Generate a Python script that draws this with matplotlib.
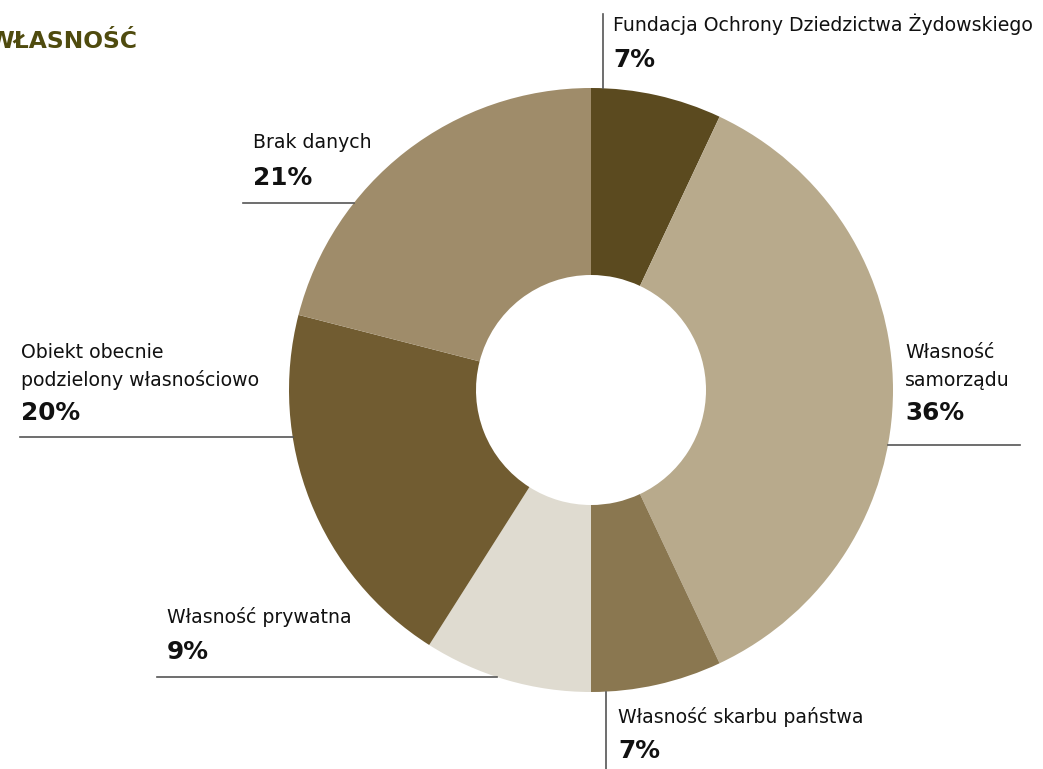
import numpy as np
import matplotlib.pyplot as plt

# data
labels = ["Fundacja Ochrony Dziedzictwa Żydowskiego", "Własność\nsamorządu",
          "Własność skarbu państwa", "Własność prywatna",
          "Obiekt obecnie\npodzielony własnościowo", "Brak danych"]
shares = [7, 36, 7, 9, 20, 21]
colors = ["#5b4a1f", "#b8aa8c", "#8a7750", "#dfdbd0", "#715c31", "#9f8c6a"]
title = "WŁASNOŚĆ"

W, H = 1043, 769
plt.rcParams['font.family'] = ['DejaVu Sans']

fig = plt.figure(figsize=(W/100, H/100), dpi=100)
ax = fig.add_axes([0, 0, 1, 1])

def py(y): return H - y   # pixel row -> data y

cx, cy, R, r_in = 591, py(390), 302, 115
ax.pie(shares, colors=colors, startangle=90, counterclock=False, center=(cx, cy),
       radius=R, wedgeprops=dict(width=R - r_in, linewidth=0), frame=True)
ax.set_xlim(0, W); ax.set_ylim(0, H)
ax.set_aspect("equal"); ax.axis("off")

# title runs off the left edge, as in the original layout
ax.text(-12, py(42), title, fontsize=16.8, fontweight="bold", color="#4f4b0e",
        va="center", ha="left", clip_on=False)

line_c = "#555555"
def hline(y, x0, side):
    dy = py(y) - cy
    xe = cx + side * np.sqrt(R**2 - dy**2)
    ax.plot([x0, xe], [py(y), py(y)], color=line_c, lw=1.2)

def label(x, y, txt, pct, gap=34):
    lines = txt.split("\n")
    for k, t in enumerate(lines):
        ax.text(x, py(y + 27*k), t, fontsize=13.6, color="#111111", va="center", ha="left")
    ax.text(x, py(y + 27*(len(lines)-1) + gap), f"{pct}%", fontsize=17.8, fontweight="bold",
            color="#111111", va="center", ha="left")

# Fundacja
label(613, 24, labels[0], shares[0], gap=36)
ax.plot([603, 603], [py(14), cy + R], color=line_c, lw=1.2)
# samorzadu
label(905, 353, labels[1], shares[1], gap=33)
hline(445, 1020, 1)
# skarbu
label(618, 717, labels[2], shares[2], gap=34)
ax.plot([606, 606], [py(769), cy - R], color=line_c, lw=1.2)
# prywatna
label(167, 617, labels[3], shares[3], gap=35)
hline(677, 157, -1)
# obiekt
label(21, 353, labels[4], shares[4], gap=33)
hline(437, 20, -1)
# brak
label(253, 143, labels[5], shares[5], gap=35)
hline(203, 243, -1)

fig.savefig("out.png", dpi=100)
